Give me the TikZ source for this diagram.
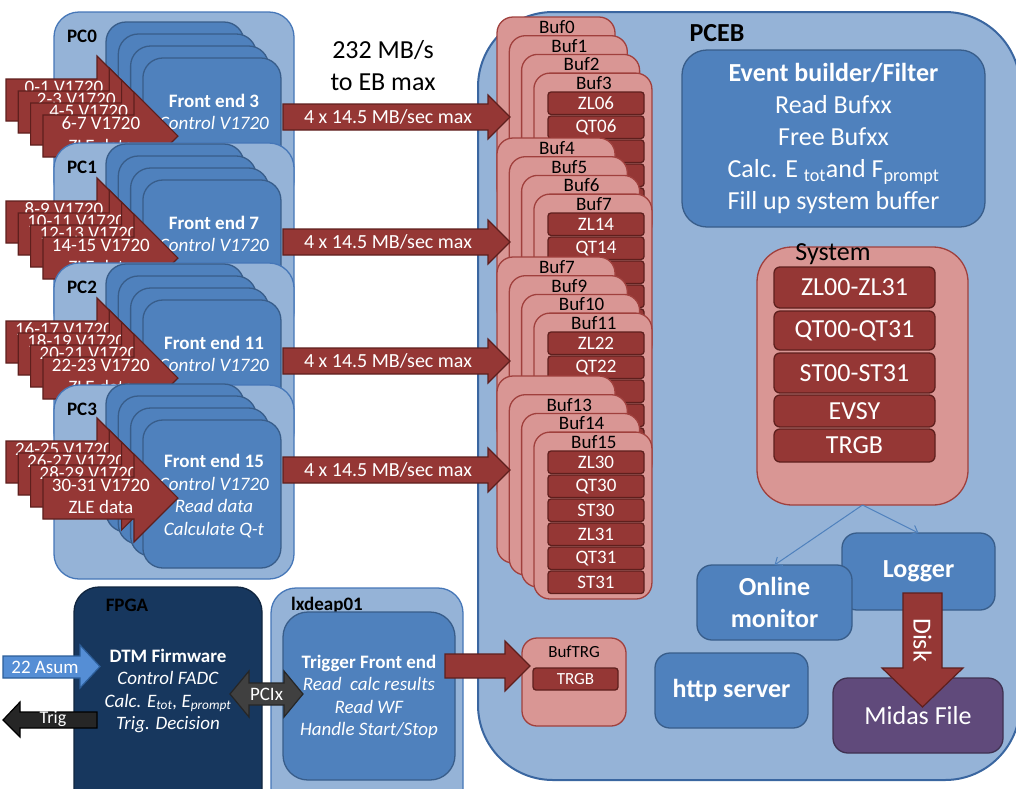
\documentclass[tikz,border=0pt]{standalone}
\usepackage{fontspec}
\setmainfont{Carlito}
\usetikzlibrary{arrows.meta,positioning,calc}

\definecolor{pcfill}{HTML}{95B3D7}
\definecolor{pcline}{HTML}{4677B8}
\definecolor{pceline}{HTML}{3A66A0}
\definecolor{fefill}{HTML}{4F81BD}
\definecolor{feline}{HTML}{385D8A}
\definecolor{datred}{HTML}{953735}
\definecolor{datline}{HTML}{5E1F1D}
\definecolor{buffill}{HTML}{D99694}
\definecolor{bufline}{HTML}{A0403D}
\definecolor{fpgafill}{HTML}{17375E}
\definecolor{fpgaline}{HTML}{10253F}
\definecolor{midasfill}{HTML}{604A7B}
\definecolor{midasline}{HTML}{3F3151}
\definecolor{asumfill}{HTML}{558ED5}
\definecolor{asumline}{HTML}{2C5D98}
\definecolor{pcixfill}{HTML}{404040}
\definecolor{trigfill}{HTML}{262626}

\begin{document}
\begin{tikzpicture}[x=1pt,y=-1pt,>={Straight Barb[length=6pt,width=10pt]}]
\tikzset{
  sm/.style={font=\fontsize{19}{22.5}\selectfont},
  smb/.style={font=\fontsize{19}{22.5}\selectfont\bfseries},
  lg/.style={font=\fontsize{26}{32}\selectfont},
  lgb/.style={font=\fontsize{26}{32}\selectfont\bfseries},
  box/.style={anchor=north west,inner sep=0pt,outer sep=0pt,line width=1.3pt},
  pcbox/.style={box,draw=pcline,fill=pcfill,rounded corners=25pt},
  febox/.style={box,draw=feline,fill=fefill,rounded corners=20pt},
  bufbox/.style={box,draw=bufline,fill=buffill,rounded corners=16pt},
  item/.style={box,draw=datline,fill=datred,rounded corners=3pt,text=white,
    minimum width=96pt,minimum height=22.5pt,sm},
  redarr/.style={draw=datline,fill=datred,line width=1.2pt},
  wt/.style={text=white,align=center,inner sep=0pt},
}
\useasboundingbox (0,0) rectangle (1016,788);
\clip (0,0) rectangle (1016,788);

% event builder PC
\node[box,draw=pceline,fill=pcfill,line width=2pt,rounded corners=75pt,
  minimum width=542pt,minimum height=768pt] (pceb) at (478,12) {};
\node[lgb] (pcebname) at (717,33) {PCEB};

% buffer stacks, four per group
\foreach \g/\gtop/\la/\lb/\lc/\ld in {0/17/Buf0/Buf1/Buf2/Buf3,1/138/Buf4/Buf5/Buf6/Buf7,
    2/257/Buf7/Buf9/Buf10/Buf11,3/376//Buf13/Buf14/Buf15}{
  \foreach \k/\lab in {0/\la,1/\lb,2/\lc,3/\ld}{
    \node[bufbox,minimum width=118pt,minimum height={(187-6.7*\k)*1pt}] (buf\g\k)
      at ({497+12.3*\k},{\gtop+18.7*\k}) {};
    \node[sm] (buflab\g\k) at ({557+12.3*\k},{\gtop+10+18.7*\k}) {\lab};
  }
  \pgfmathtruncatemacro\na{8*\g+6}
  \pgfmathtruncatemacro\nb{8*\g+7}
  \edef\pa{\ifnum\na<10 0\fi\na}
  \edef\pb{\ifnum\nb<10 0\fi\nb}
  \foreach \r/\nm in {0/ZL\pa,1/QT\pa,2/ST\pa,3/ZL\pb,4/QT\pb,5/ST\pb}
    \node[item] (it\g\r) at (548,{\gtop+75+24*\r}) {\nm};
}

% front end PCs with their digitizer inputs
\foreach \i/\cy/\top in {0/136/12,1/258/143,2/378/263,3/498/385}{
  \pgfmathtruncatemacro\fe{4*\i+3}
  \node[pcbox,minimum width=240pt,minimum height=194pt] (pc\i) at (54,\top) {};
  \node[smb] (pcname\i) at (82,\top+24) {PC\i};
  \foreach \j in {0,...,3}
    \node[febox,minimum width=138pt,minimum height=148pt] (fe\i\j)
      at ({106+12.3*\j},{\cy-114+12*\j}) {};
  \ifnum\i=3
    \node[wt,sm] (fetext\i) at (214,\cy-2) {\textbf{Front end \fe}\\\textit{Control V1720}\\
      \textit{Read data}\\\textit{Calculate Q-t}};
  \else
    \node[wt,sm] (fetext\i) at (214,\cy-24) {\textbf{Front end \fe}\\\textit{Control V1720}};
  \fi
  \foreach \j in {0,...,3}{
    \pgfmathtruncatemacro\ch{8*\i+2*\j}
    \pgfmathtruncatemacro\chb{\ch+1}
    \pgfmathsetmacro\ax{6+12.3*\j}
    \pgfmathsetmacro\ay{\cy-36+12*\j}
    \draw[redarr] (\ax,\ay-21) -- (\ax+91,\ay-21) -- (\ax+91,\ay-44) -- (\ax+135,\ay)
      -- (\ax+91,\ay+44) -- (\ax+91,\ay+21) -- (\ax,\ay+21) -- cycle;
    \node[wt,sm] (adc\i\j) at (\ax+58,\ay-1.5) {\ch-\chb{} V1720\\ZLE data};
  }
}

\node[lg,align=center] (rate) at (383,66) {232 MB/s\\to EB max};

% links from the front ends to the buffers
\foreach \cy [count=\n] in {117,242,361,470}{
  \draw[redarr] (283,\cy-13) -- (488,\cy-13) -- (488,\cy-22) -- (510,\cy)
    -- (488,\cy+22) -- (488,\cy+13) -- (283,\cy+13) -- cycle;
  \node[wt,font=\fontsize{20}{24}\selectfont] (link\n) at (388,\cy) {4 x 14.5 MB/sec max};
}

% event builder and system buffer
\node[febox,rounded corners=25pt,minimum width=303pt,minimum height=177pt,wt,lg] (eb) at (682,50)
  {\textbf{Event builder/Filter}\\Read Bufxx\\Free Bufxx\\Calc. E \textsubscript{tot}and F\textsubscript{prompt}\\Fill up system buffer};
\node[bufbox,rounded corners=35pt,minimum width=211pt,minimum height=258pt] (sys) at (757,247) {};
\node[lg] (sysname) at (833,254) {System};
\foreach \y/\h/\t [count=\n] in {267/41/ZL00-ZL31,311/39/QT00-QT31,353/40/ST00-ST31,395/32/EVSY,429/33/TRGB}
  \node[item,lg,rounded corners=6pt,minimum width=161pt,minimum height={\h*1pt}] (sys\n) at (774,\y) {\t};

% consumers of the system buffer
\node[febox,rounded corners=15pt,minimum width=153pt,minimum height=77pt,wt,lgb] (log) at (842,533) {Logger};
\node[febox,rounded corners=15pt,minimum width=155pt,minimum height=75pt,wt,lgb] (mon) at (697,565) {Online\\monitor};
\node[febox,rounded corners=15pt,minimum width=153pt,minimum height=75pt,wt,lgb] (http) at (655,653) {http server};
\node[box,draw=midasline,fill=midasfill,rounded corners=15pt,minimum width=170pt,minimum height=75pt,wt,lg] (midas) at (833,678) {Midas File};
\draw[->,draw=fefill,line width=1pt] (sys.south) -- (mon.north);
\draw[->,draw=fefill,line width=1pt] (sys.south) -- (log.north);
\draw[redarr] (903,593) -- (942,593) -- (942,668) -- (963,668) -- (922.5,707) -- (882,668) -- (903,668) -- cycle;
\node[wt,lg,rotate=-90] (disk) at (922.5,640) {Disk};

% trigger buffer
\node[bufbox,rounded corners=15pt,minimum width=104pt,minimum height=88pt] (buftrg) at (522,638) {};
\node[font=\fontsize{17}{20}\selectfont] (buftrgname) at (574,652) {BufTRG};
\node[item,font=\fontsize{17}{20}\selectfont,minimum width=85pt,minimum height=22pt] (trgb) at (533,668) {TRGB};

% trigger hardware and its front end
\node[box,draw=fpgaline,fill=fpgafill,rounded corners=25pt,minimum width=188pt,minimum height=230pt] (fpga) at (74,587) {};
\node[smb] (fpganame) at (127,605) {FPGA};
\node[wt,sm] (dtm) at (168,691) {\textbf{DTM Firmware}\\\textit{Control FADC}\\
  \textit{Calc. E\textsubscript{tot}, E\textsubscript{prompt}}\\\textit{Trig. Decision}};
\node[pcbox,minimum width=192pt,minimum height=230pt] (lxd) at (271,588) {};
\node[smb] (lxdname) at (327,605) {lxdeap01};
\node[febox,rounded corners=25pt,minimum width=172pt,minimum height=168pt] (tfe) at (283,612) {};
\node[wt,sm] (tfetext) at (369,697) {\textbf{Trigger Front end}\\\textit{Read\ \ calc results}\\
  \textit{Read WF}\\\textit{Handle Start/Stop}};

\draw[redarr] (445,654) -- (505,654) -- (505,641) -- (530,666) -- (505,691) -- (505,678) -- (445,678) -- cycle;
\draw[draw=trigfill,fill=pcixfill,line width=1.2pt] (230,694) -- (249,671) -- (249,683) -- (284,683) -- (284,671)
  -- (303,694) -- (284,717) -- (284,705) -- (249,705) -- (249,717) -- cycle;
\node[wt,sm] (pcix) at (266.5,694) {PCIx};
\draw[draw=asumline,fill=asumfill,line width=1.2pt] (3,656) -- (80,656) -- (80,645) -- (100,666.5)
  -- (80,688) -- (80,678) -- (3,678) -- cycle;
\node[wt,sm] (asum) at (45,667) {22 Asum};
\draw[draw=black,fill=trigfill,line width=1.2pt] (3,720) -- (20,702) -- (20,712) -- (97,712) -- (97,728)
  -- (20,728) -- (20,737) -- cycle;
\node[wt,font=\fontsize{18}{22}\selectfont] (trig) at (53,719) {Trig};
\end{tikzpicture}
\end{document}
